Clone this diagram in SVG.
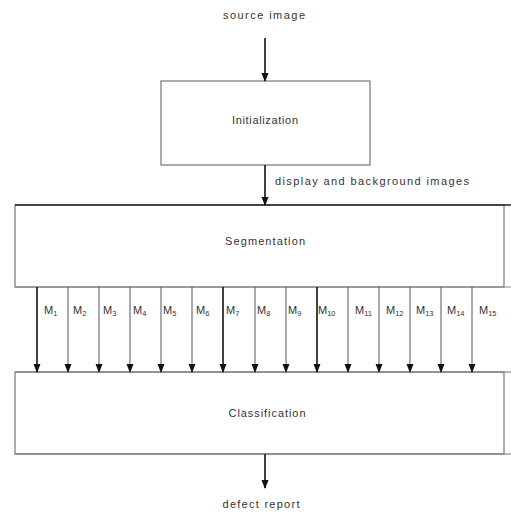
<svg xmlns="http://www.w3.org/2000/svg" width="511" height="512" viewBox="0 0 511 512">
<defs>
<marker id="ah" markerWidth="9" markerHeight="8" refX="8" refY="4" orient="auto" markerUnits="userSpaceOnUse" viewBox="0 0 9 8">
<path d="M0,0.5 L9,4 L0,7.5 Z" fill="#111"/>
</marker>
<style>
text{font-family:"Liberation Sans",Arial,sans-serif;font-size:11px;fill:#333}
.sub{font-size:7.5px}
.box{fill:#fff;stroke:#777;stroke-width:1.2}
.thin{stroke:#555;stroke-width:1}
.thick{stroke:#111;stroke-width:1.6}
</style>
</defs>
<rect width="511" height="512" fill="#fff"/>
<text x="264" y="19" text-anchor="middle" textLength="82">source image</text>
<g id="initialization">
<rect class="box" x="161" y="81" width="209" height="84" stroke="#444"/>
<text x="265" y="124" text-anchor="middle" textLength="66">Initialization</text>
</g>
<g id="segmentation">
<rect class="box" x="15" y="205" width="489" height="82" stroke="#999"/>
<line x1="15" y1="205" x2="511" y2="205" stroke="#222" stroke-width="1.4"/>
<line x1="15" y1="287" x2="511" y2="287" stroke="#888" stroke-width="1.2"/>
<text x="265" y="245" text-anchor="middle" textLength="80">Segmentation</text>
</g>
<g id="classification">
<rect class="box" x="15" y="372" width="489" height="82" stroke="#aaa"/>
<line x1="15" y1="372" x2="511" y2="372" stroke="#777" stroke-width="1.2"/>
<line x1="15" y1="454" x2="511" y2="454" stroke="#777" stroke-width="1.2"/>
<text x="267" y="417" text-anchor="middle" textLength="77">Classification</text>
</g>
<text x="261" y="508" text-anchor="middle" textLength="77">defect report</text>
<text x="275" y="185" textLength="194">display and background images</text>
<g id="connectors" fill="none">
<line class="thick" x1="265" y1="38" x2="265" y2="81" marker-end="url(#ah)"/>
<line class="thick" x1="265" y1="165" x2="265" y2="205" marker-end="url(#ah)"/>
<line class="thick" x1="265" y1="454" x2="265" y2="488" marker-end="url(#ah)"/>
<line class="thick" x1="37" y1="287" x2="37" y2="372" marker-end="url(#ah)"/>
<line class="thin" x1="68" y1="287" x2="68" y2="372" marker-end="url(#ah)"/>
<line class="thin" x1="99" y1="287" x2="99" y2="372" marker-end="url(#ah)"/>
<line class="thin" x1="130" y1="287" x2="130" y2="372" marker-end="url(#ah)"/>
<line class="thin" x1="161" y1="287" x2="161" y2="372" marker-end="url(#ah)"/>
<line class="thin" x1="192" y1="287" x2="192" y2="372" marker-end="url(#ah)"/>
<line class="thick" x1="223" y1="287" x2="223" y2="372" marker-end="url(#ah)"/>
<line class="thin" x1="255" y1="287" x2="255" y2="372" marker-end="url(#ah)"/>
<line class="thin" x1="286" y1="287" x2="286" y2="372" marker-end="url(#ah)"/>
<line class="thick" x1="317" y1="287" x2="317" y2="372" marker-end="url(#ah)"/>
<line class="thin" x1="348" y1="287" x2="348" y2="372" marker-end="url(#ah)"/>
<line class="thin" x1="379" y1="287" x2="379" y2="372" marker-end="url(#ah)"/>
<line class="thin" x1="410" y1="287" x2="410" y2="372" marker-end="url(#ah)"/>
<line class="thin" x1="441" y1="287" x2="441" y2="372" marker-end="url(#ah)"/>
<line class="thin" x1="472" y1="287" x2="472" y2="372" marker-end="url(#ah)"/>
</g>
<g id="labels">
<text x="44" y="314">M<tspan class="sub" dy="2">1</tspan></text>
<text x="73" y="314">M<tspan class="sub" dy="2">2</tspan></text>
<text x="103" y="314">M<tspan class="sub" dy="2">3</tspan></text>
<text x="133" y="314">M<tspan class="sub" dy="2">4</tspan></text>
<text x="163" y="314">M<tspan class="sub" dy="2">5</tspan></text>
<text x="196" y="314">M<tspan class="sub" dy="2">6</tspan></text>
<text x="226" y="314">M<tspan class="sub" dy="2">7</tspan></text>
<text x="257" y="314">M<tspan class="sub" dy="2">8</tspan></text>
<text x="288" y="314">M<tspan class="sub" dy="2">9</tspan></text>
<text x="318" y="314">M<tspan class="sub" dy="2">10</tspan></text>
<text x="355" y="314">M<tspan class="sub" dy="2">11</tspan></text>
<text x="386" y="314">M<tspan class="sub" dy="2">12</tspan></text>
<text x="416" y="314">M<tspan class="sub" dy="2">13</tspan></text>
<text x="447" y="314">M<tspan class="sub" dy="2">14</tspan></text>
<text x="479" y="314">M<tspan class="sub" dy="2">15</tspan></text>
</g>
</svg>
